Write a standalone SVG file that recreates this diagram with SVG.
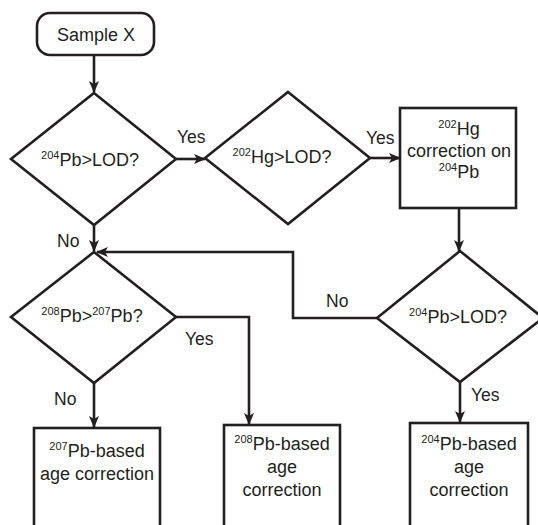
<svg xmlns="http://www.w3.org/2000/svg" width="538" height="525" viewBox="0 0 538 525">
<style>
.shape{fill:#fff;stroke:#231f20;stroke-width:2.6}
.conn{fill:none;stroke:#231f20;stroke-width:2.6}
text{font-family:"Liberation Sans",Arial,sans-serif;font-size:18px;fill:#231f20}
.c{text-anchor:middle}
.lbl{font-size:17.5px}
.sup{font-size:11px}
</style>
<defs>
<marker id="arr" viewBox="0 0 12 10" markerWidth="12" markerHeight="10" refX="11" refY="5" orient="auto" markerUnits="userSpaceOnUse">
<path d="M0,0 L12,5 L0,10 L3,5 z" fill="#231f20"/>
</marker>
</defs>
<rect width="538" height="525" fill="#fff"/>
<g id="connectors">
<line class="conn" x1="94" y1="55" x2="94" y2="92" marker-end="url(#arr)"/>
<line class="conn" x1="176" y1="159" x2="205" y2="159" marker-end="url(#arr)"/>
<line class="conn" x1="370" y1="158" x2="400" y2="158" marker-end="url(#arr)"/>
<line class="conn" x1="459" y1="208" x2="459" y2="251" marker-end="url(#arr)"/>
<line class="conn" x1="94" y1="225" x2="94" y2="251" marker-end="url(#arr)"/>
<polyline class="conn" points="377,318 293,318 293,252 97,252" marker-end="url(#arr)"/>
<polyline class="conn" points="176,317 249,317 249,424" marker-end="url(#arr)"/>
<line class="conn" x1="94" y1="383" x2="94" y2="427" marker-end="url(#arr)"/>
<line class="conn" x1="460" y1="382" x2="460" y2="422" marker-end="url(#arr)"/>
<text class="lbl" x="177" y="143">Yes</text>
<text class="lbl" x="366" y="144">Yes</text>
<text class="lbl" x="57" y="247">No</text>
<text class="lbl" x="326" y="307">No</text>
<text class="lbl" x="185" y="345">Yes</text>
<text class="lbl" x="54" y="405">No</text>
<text class="lbl" x="471" y="401">Yes</text>
</g>
<g id="sample">
<rect class="shape" x="37" y="13" width="117" height="42" rx="13"/>
<text class="c" x="96" y="41">Sample X</text>
</g>
<g id="d1">
<polygon class="shape" points="94,93 176,159 94,225 11,159"/>
<text class="c" x="90" y="166"><tspan class="sup" dy="-7">204</tspan><tspan dy="7">Pb&gt;LOD?</tspan></text>
</g>
<g id="d2">
<polygon class="shape" points="288,92 370,158 288,224 205,158"/>
<text class="c" x="282" y="163"><tspan class="sup" dy="-7">202</tspan><tspan dy="7">Hg&gt;LOD?</tspan></text>
</g>
<g id="hgcorr">
<rect class="shape" x="400" y="108" width="116" height="100"/>
<text class="c" x="459" y="135"><tspan class="sup" dy="-7">202</tspan><tspan dy="7">Hg</tspan></text>
<text class="c" x="459" y="157">correction on</text>
<text class="c" x="459" y="178"><tspan class="sup" dy="-7">204</tspan><tspan dy="7">Pb</tspan></text>
</g>
<g id="d3">
<polygon class="shape" points="94,252 176,317 94,383 11,317"/>
<text class="c" x="92" y="322"><tspan class="sup" dy="-7">208</tspan><tspan dy="7">Pb&gt;</tspan><tspan class="sup" dy="-7">207</tspan><tspan dy="7">Pb?</tspan></text>
</g>
<g id="d4">
<polygon class="shape" points="460,251 543,318 460,382 377,318"/>
<text class="c" x="458" y="323"><tspan class="sup" dy="-7">204</tspan><tspan dy="7">Pb&gt;LOD?</tspan></text>
</g>
<g id="b207">
<rect class="shape" x="34" y="428" width="126" height="120"/>
<text class="c" x="97" y="457"><tspan class="sup" dy="-7">207</tspan><tspan dy="7">Pb-based</tspan></text>
<text class="c" x="97" y="480">age correction</text>
</g>
<g id="b208">
<rect class="shape" x="224" y="425" width="116" height="120"/>
<text class="c" x="282" y="450"><tspan class="sup" dy="-7">208</tspan><tspan dy="7">Pb-based</tspan></text>
<text class="c" x="282" y="473">age</text>
<text class="c" x="282" y="496">correction</text>
</g>
<g id="b204">
<rect class="shape" x="410" y="423" width="118" height="120"/>
<text class="c" x="469" y="450"><tspan class="sup" dy="-7">204</tspan><tspan dy="7">Pb-based</tspan></text>
<text class="c" x="469" y="473">age</text>
<text class="c" x="469" y="496">correction</text>
</g>
</svg>
